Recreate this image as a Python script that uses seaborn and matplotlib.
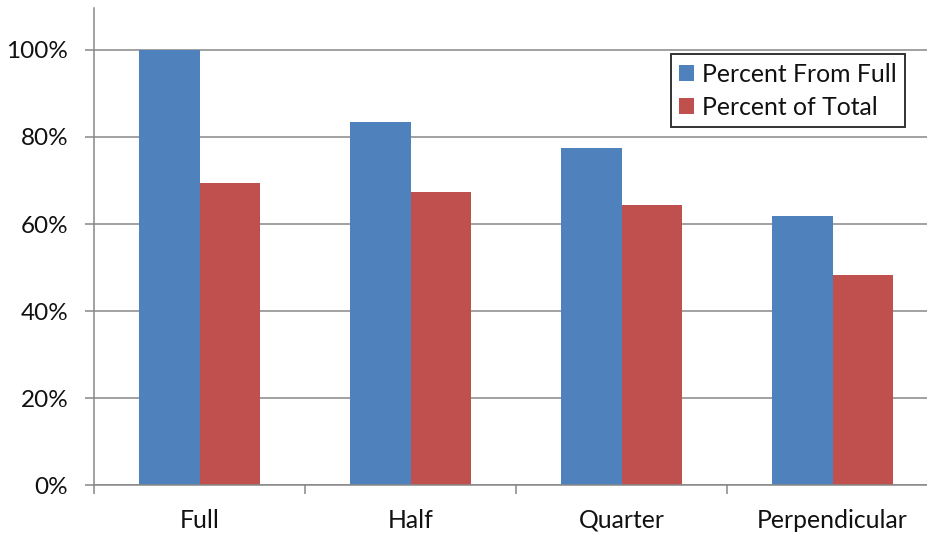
import matplotlib
matplotlib.use("Agg")
import matplotlib.pyplot as plt
from matplotlib.ticker import FixedLocator, PercentFormatter
import seaborn as sns
import pandas as pd

# Share of blue coverage per arrangement
categories = ["Full", "Half", "Quarter", "Perpendicular"]
percent_from_full = [1.000, 0.834, 0.775, 0.618]
percent_of_total = [0.694, 0.673, 0.644, 0.484]
series_names = ["Percent From Full", "Percent of Total"]
y_ticks = [0.0, 0.2, 0.4, 0.6, 0.8, 1.0]

df = pd.DataFrame({
    "Arrangement": categories * 2,
    "Value": percent_from_full + percent_of_total,
    "Series": [series_names[0]] * len(categories) + [series_names[1]] * len(categories),
})

sns.set_theme(style="white")
plt.rcParams["font.family"] = ["Lato", "DejaVu Sans"]

GRID = "#878787"
fig = plt.figure(figsize=(9.27, 5.35), dpi=100)
ax = fig.add_axes([94 / 927, (535 - 485.3) / 535, 844 / 927, (485.3 - 8) / 535])

sns.barplot(
    data=df, x="Arrangement", y="Value", hue="Series",
    order=categories, hue_order=series_names,
    palette=["#4F81BD", "#C0504D"], width=0.572, saturation=1,
    linewidth=0, ax=ax, legend=True,
)

ax.set_xlim(-0.5, len(categories) - 0.5)
ax.set_ylim(0, 1.096)
ax.set_yticks(y_ticks)
ax.yaxis.set_major_formatter(PercentFormatter(1.0, decimals=0))
ax.set_xlabel("")
ax.set_ylabel("")

ax.grid(axis="y", color=GRID, linewidth=1.1)
ax.set_axisbelow(True)
for side in ["top", "right"]:
    ax.spines[side].set_visible(False)
for side in ["left", "bottom"]:
    ax.spines[side].set_color(GRID)
    ax.spines[side].set_linewidth(1.1)

# category boundary ticks below the x axis
ax.xaxis.set_minor_locator(FixedLocator([i - 0.5 for i in range(len(categories) + 1)]))
ax.tick_params(axis="x", which="minor", bottom=True, length=6.5, width=1.1, color=GRID)
ax.tick_params(axis="x", which="major", bottom=True, length=0, pad=17, labelsize=17.8, labelcolor="#111111")
ax.tick_params(axis="y", which="major", left=True, length=6.5, width=1.1, color=GRID, pad=12,
               labelsize=17.5, labelcolor="#111111")

leg = ax.legend(
    loc="upper right", bbox_to_anchor=(0.961, 0.9036), borderaxespad=0,
    fontsize=17.8, frameon=True, fancybox=False, edgecolor="black",
    handlelength=0.6, handleheight=0.6, handletextpad=0.3,
    labelspacing=0.4, borderpad=0.35,
)
leg.get_frame().set_linewidth(1.4)
for t in leg.get_texts():
    t.set_color("#111111")

fig.savefig("out.png", dpi=100)
